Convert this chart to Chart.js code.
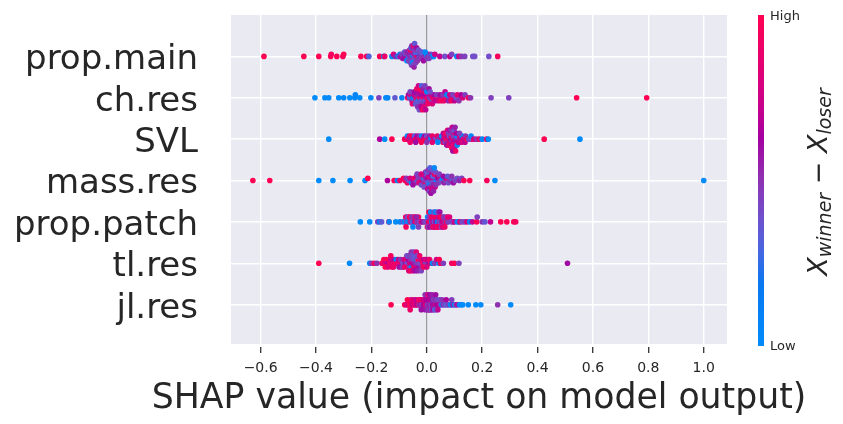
<!DOCTYPE html>
<html>
<head>
<meta charset="utf-8">
<script src="https://cdn.jsdelivr.net/npm/chart.js@4"></script>
<style>
  html, body { margin: 0; padding: 0; background: #fff; }
  canvas { display: block; }
</style>
</head>
<body>
<canvas id="shapChart" width="843" height="424"></canvas>
<script>
const features = ['prop.main', 'ch.res', 'SVL', 'mass.res', 'prop.patch', 'tl.res', 'jl.res'];
const xTicks = [-0.6, -0.4, -0.2, 0.0, 0.2, 0.4, 0.6, 0.8, 1.0];
const xTitle = 'SHAP value (impact on model output)';

// shap values and (normalised) feature values, one pair of arrays per feature
const propMainShap = [-0.588, -0.444, -0.39, -0.347, -0.345, -0.325, -0.303, -0.300, -0.238, -0.217, -0.209, -0.17, -0.155, -0.152, -0.126, -0.12, -0.113,
  -0.104, -0.1, -0.097, -0.094, -0.09, -0.087, -0.083, -0.08, -0.077, -0.073,
  -0.07, -0.067, -0.064, -0.061, -0.058, -0.056, -0.053, -0.05, -0.048, -0.045,
  -0.043, -0.04, -0.038, -0.035, -0.032, -0.03, -0.027, -0.024, -0.021, -0.018,
  -0.015, -0.012, -0.009, -0.006, -0.003, 0.0, 0.005, 0.01, 0.015, 0.02,
  -0.06, -0.055, -0.052, -0.047, -0.044, -0.041, -0.036,
  -0.085, -0.08, -0.075, -0.072, -0.068, -0.065, -0.062, -0.06, -0.058, -0.057,
  -0.055, -0.054, -0.052, -0.05, -0.049, -0.047, -0.046, -0.044, -0.042, -0.04,
  -0.037, -0.034, -0.03, -0.026, -0.022, -0.018, -0.012, -0.006, 0.0, 0.008,
  0.025, 0.029, 0.047, 0.065, 0.083, 0.09, 0.108, 0.116, 0.125, 0.137, 0.166, 0.173, 0.224, 0.256];
const propMainFeat = [1, 1, 1, 1, 0.95, 1, 0.95, 1, 1, 0.95, 0.3, 1, 0, 0.9, 0.05, 0.8, 0.55,
  0.05, 0.45, 0.1, 0.6, 0.45, 0.5, 0.4, 0.6, 0.35, 0.45,
  0.5, 0.3, 0.55, 0.45, 0.55, 0.4, 0.6, 0.05, 0.45, 0.4,
  0.5, 0.5, 0.35, 0.95, 0.6, 0.45, 0.45, 0.2, 0.55, 0.5,
  0.4, 0.6, 0.5, 0.55, 0.45, 0.0, 0.6, 0.3, 0.45, 0.05,
  0.45, 0.5, 0.55, 0.4, 0.5, 0.3, 0.55,
  0.6, 0.35, 0.5, 0.05, 0.55, 0.45, 0.4, 0.9, 0.45, 0.3,
  0.5, 0.5, 0.05, 0.55, 0.4, 0.85, 0.55, 0.35, 0.45, 0.45,
  0.6, 0.5, 0.4, 0.5, 0.45, 0.35, 0.6, 0.05, 0.5, 0.45,
  0, 0.75, 0.7, 0.4, 0.7, 0.45, 0.05, 0.75, 0.5, 0.45, 0.4, 0.4, 0.4, 0.95];

const chResShap = [-0.404, -0.368, -0.354, -0.318, -0.30, -0.278, -0.26, -0.258, -0.242, -0.202, -0.173, -0.148, -0.141, -0.115, -0.09, -0.069,
  -0.066, -0.062, -0.058, -0.054, -0.05, -0.046, -0.042, -0.038, -0.035, -0.032,
  -0.03, -0.028, -0.025, -0.022, -0.02, -0.018, -0.015, -0.012, -0.01, -0.008,
  -0.005, -0.003, 0, 0.003, 0.006, 0.01, 0.014, 0.018, 0.022, 0.026,
  -0.06, -0.052, -0.045, -0.04, -0.036, -0.033, -0.03, -0.027, -0.024, -0.021,
  -0.019, -0.016, -0.013, -0.011, -0.007, -0.004, 0.0, 0.004, 0.008, 0.012,
  0.02, 0.04, 0.055, 0.068, 0.08, 0.092, 0.105, 0.12,
  0.03, 0.036, 0.042, 0.048, 0.052, 0.058, 0.062, 0.066, 0.072, 0.078, 0.083,
  0.088, 0.094, 0.1, 0.106, 0.11, 0.116, 0.124, 0.13, 0.138, 0.15, 0.158,
  0.232, 0.296, 0.541, 0.794];
const chResFeat = [0, 0, 0.02, 0, 0.05, 0, 0.03, 0.08, 0, 0.05, 0.45, 0, 0.05, 0.35, 0.05, 0.95,
  0.6, 0.3, 0.8, 0.5, 0.15, 0.7, 0.4, 0.9, 0.55, 0.25,
  0.7, 0.45, 0.95, 0.6, 0.35, 0.8, 0.5, 0.9, 0.65, 0.4,
  1, 0.55, 0.85, 0.7, 0.95, 0.5, 0.75, 0.4, 0.9, 0.6,
  0.45, 0.85, 0.6, 0.35, 0.9, 0.5, 0.75, 0.4, 1, 0.65,
  0.3, 0.95, 0.55, 0.8, 0.45, 0.7, 0.05, 0.9, 0.6, 0.4,
  0.8, 0.95, 0.5, 1, 0.45, 0.9, 0.7, 0.55,
  0.7, 0.45, 0.8, 0.6, 0.95, 0.5, 0.9, 0.7, 0.05, 0.55, 0.75,
  0.95, 0.45, 0.7, 0.4, 0.85, 0.5, 0.65, 0.8, 0.45, 0.95, 0.5,
  0.45, 0.45, 1, 1];

const svlShap = [-0.354, -0.17, -0.152, -0.126, -0.08,
  -0.075, -0.07, -0.066, -0.062, -0.058, -0.053, -0.048, -0.044, -0.04, -0.035, -0.03, -0.026, -0.022,
  -0.018, -0.013, -0.008, -0.004, 0, 0.005, 0.01, 0.015, 0.02, 0.026, 0.032, 0.038, 0.044,
  0.05, 0.054, 0.058, 0.061, 0.064, 0.067, 0.07, 0.073, 0.076, 0.079, 0.082, 0.085, 0.087, 0.089,
  0.091, 0.093, 0.095, 0.097, 0.1, 0.103, 0.106, 0.109, 0.112, 0.116, 0.12, 0.124, 0.128, 0.132,
  -0.06, -0.04, -0.02, 0.0, 0.02, 0.04, 0.06, 0.068, 0.072, 0.075,
  0.078, 0.08, 0.083, 0.086, 0.088, 0.09, 0.092, 0.094, 0.096, 0.098,
  0.1, 0.102, 0.104, 0.107, 0.11, 0.114, 0.118, 0.125, 0.14, 0.16,
  0.138, 0.145, 0.152, 0.16, 0.17, 0.18, 0.19, 0.2, 0.216, 0.222,
  0.424, 0.553];
const svlFeat = [0, 0.65, 0, 1, 1,
  0.95, 0.05, 0.8, 0.9, 0.55, 1, 0.7, 0.3, 0.95, 0.65, 0.85, 0.5, 0.9,
  0.05, 0.75, 0.6, 0.95, 0.4, 0.8, 0.55, 0.05, 0.9, 0.7, 0.4, 0.85, 0.5,
  0.75, 0.05, 0.9, 0.6, 0.8, 0.45, 0.95, 0.7, 0.55, 0.85, 0.4, 0.75, 0.6, 0.9,
  0.5, 0.7, 0.8, 0.45, 0.65, 0.9, 0.55, 0.05, 0.75, 0.5, 0.85, 0.6, 0, 0.8,
  0.9, 0.6, 1, 0.5, 0.85, 0.05, 0.7, 0.95, 0.6, 0.8,
  0.45, 0.9, 0.65, 0.75, 0.5, 0.95, 0.7, 0.6, 0.85, 0.4,
  0.75, 0.55, 0.9, 0.65, 0.05, 0.7, 0.45, 0.8, 0.5, 0.9,
  0.7, 0.95, 0.4, 0.05, 0.8, 0.5, 0.9, 0.05, 0.95, 0,
  1, 0];

const massResShap = [-0.628, -0.567, -0.39, -0.339, -0.277, -0.223, -0.213, -0.142, -0.118, -0.106, -0.097, -0.084,
  -0.078, -0.074, -0.07, -0.065, -0.06, -0.055, -0.05, -0.045, -0.04, -0.036, -0.032, -0.03,
  -0.028, -0.024, -0.02, -0.016, -0.012, -0.01, -0.008, -0.005, -0.002, 0, 0.001, 0.004,
  0.007, 0.01, 0.012, 0.013, 0.016, 0.019, 0.02, 0.022, 0.025, 0.028, 0.03, 0.031,
  0.035, 0.039, 0.043, 0.047, 0.052, 0.057, 0.062, 0.067, 0.072, 0.078, 0.084,
  0.09, 0.096, 0.103, 0.11, 0.118, 0.126,
  -0.05, -0.035, -0.02, -0.01, -0.004, 0.0, 0.003, 0.006, 0.009, 0.012,
  0.015, 0.018, 0.021, 0.024, 0.027, 0.033, 0.045, 0.06, 0.075, 0.09,
  0.134, 0.155, 0.217, 0.246, 1.0];
const massResFeat = [1, 1, 0, 0, 0, 0, 1, 0.65, 1, 0.05, 0.95, 1,
  0.9, 0.5, 0.95, 0.4, 0.8, 0.05, 0.6, 0.9, 0.45, 0.7, 0.35, 0.45,
  0.85, 0.5, 0.4, 0.75, 0.3, 0.5, 0.55, 0.9, 0.4, 0.45, 0.6, 0.35,
  0.8, 0.05, 0.65, 0.5, 0.45, 0.7, 0.4, 0.3, 0.55, 0.9, 0.7, 0.4,
  0.05, 0.6, 0.45, 0.75, 0.4, 0.05, 0.55, 0.45, 0.8, 0.4, 0.5,
  0.35, 0.6, 0.45, 0.4, 0.55, 0.45,
  0.6, 0.45, 0.8, 0.4, 0.55, 0.35, 0.7, 0.5, 0.45, 0.3,
  0.6, 0.75, 0.4, 0.55, 0.05, 0.5, 0.45, 0.6, 0.35, 0.5,
  1, 1, 0.95, 0, 0];

const propPatchShap = [-0.24, -0.206, -0.177, -0.17, -0.163, -0.137, -0.136, -0.112, -0.097,
  -0.085, -0.08, -0.076, -0.072, -0.068, -0.064, -0.06, -0.056, -0.052,
  -0.048, -0.044, -0.04, -0.035, -0.03, -0.025, -0.02, -0.014, -0.008,
  0, 0.003, 0.006, 0.009, 0.012, 0.015, 0.018, 0.021, 0.024, 0.027, 0.03, 0.033, 0.036,
  0.039, 0.042, 0.045, 0.048, 0.051, 0.055, 0.059, 0.063, 0.067, 0.072, 0.077, 0.082,
  -0.075, -0.07, -0.062, -0.055, -0.05, -0.042, -0.038, -0.03,
  0.002, 0.005, 0.008, 0.011, 0.014, 0.017, 0.02, 0.023, 0.026, 0.029, 0.032, 0.035, 0.038,
  0.041, 0.044, 0.047, 0.05, 0.053, 0.057, 0.061, 0.065, 0.07, 0.075, 0.095, 0.115,
  0.09, 0.1, 0.11, 0.12, 0.128, 0.137, 0.145, 0.155, 0.165,
  0.18, 0.182, 0.2, 0.21, 0.23, 0.267, 0.289, 0.314, 0.321];
const propPatchFeat = [0, 0, 0.45, 0.1, 0.35, 1, 0.05, 0, 0.05,
  0.35, 0.05, 0.9, 0.4, 0.05, 0.95, 0.45, 0.85, 0.3,
  0.95, 0.6, 0.9, 0.5, 0.95, 0.4, 0.85, 0.6, 0.45,
  0.4, 0.05, 0.8, 0.45, 0.95, 0.5, 0.05, 0.7, 0.9, 0.4, 0.85, 0.6, 0.95,
  0.05, 0.75, 0.5, 0.9, 0.35, 0.7, 0.05, 0.85, 0.5, 0.95, 0.45, 0.8,
  0.95, 0.4, 1, 0.5, 0.05, 0.9, 0.55, 0.45,
  0.95, 0.45, 1, 0.6, 0.05, 0.9, 0.5, 0.95, 0.4, 0.85, 0.05, 0.7, 1,
  0.45, 0.9, 0.6, 0.95, 0.4, 0.8, 0.5, 0.9, 0.45, 0.85, 0.5, 0.4,
  0.45, 0.75, 0.05, 0.85, 0.4, 0.45, 0.8, 0.05, 0.7,
  1, 0.45, 0.5, 0.35, 0.7, 1, 1, 1, 0.95];

const tlResShap = [-0.39, -0.279, -0.206, -0.2, -0.19, -0.18, -0.156,
  -0.162, -0.155, -0.15, -0.146, -0.142, -0.138, -0.134, -0.13,
  -0.126, -0.122, -0.118, -0.114, -0.11, -0.106, -0.102,
  -0.098, -0.094, -0.09, -0.086, -0.082, -0.078, -0.074, -0.07, -0.067, -0.064,
  -0.061, -0.058, -0.055, -0.052, -0.049, -0.046, -0.043, -0.04, -0.037, -0.034,
  -0.031, -0.028, -0.025, -0.022, -0.018, -0.014, -0.01, -0.005,
  -0.15, -0.14, -0.13, -0.12, -0.1, -0.088, -0.08, -0.072, -0.068,
  -0.065, -0.062, -0.059, -0.056, -0.053, -0.05, -0.047, -0.044, -0.041,
  -0.038, -0.035, -0.032, -0.026, -0.02, -0.012, -0.004, 0.008, 0.015,
  0, 0.005, 0.01, 0.02, 0.028, 0.035, 0.044, 0.045, 0.05, 0.06, 0.09, 0.1, 0.116, 0.508];
const tlResFeat = [1, 0, 0.05, 0.45, 0.95, 0.5, 0,
  0.9, 1, 0.8, 0.95, 0.65, 1, 0.9, 0.75,
  1, 0.85, 0.6, 0.95, 0.05, 0.9, 0.7,
  0.85, 0.5, 0.95, 0.4, 0.75, 0.55, 0.9, 0.4, 0.65, 0.35,
  0.8, 0.5, 0.05, 0.7, 0.4, 0.9, 0.55, 0.35, 0.75, 0.45,
  0.95, 0.6, 0.4, 0.85, 0.5, 0.95, 0.7, 0.45,
  1, 0.85, 0.95, 0.9, 0.6, 0.45, 0.9, 0.5, 0.35,
  0.8, 0.45, 0.95, 0.5, 0.4, 0.75, 0.45, 0.35, 0.6,
  0.85, 0.4, 0.55, 0.9, 0.45, 0.95, 0.8, 0.6, 0.85,
  0.8, 0.7, 0.9, 0.05, 0.45, 0.75, 0, 1, 0.95, 0.45, 0.9, 1, 0.45, 0.6];

const jlResShap = [-0.129, -0.08, -0.075, -0.07, -0.066, -0.062, -0.058, -0.054, -0.05, -0.046,
  -0.042, -0.038, -0.034, -0.03, -0.027, -0.024, -0.021, -0.02, -0.018, -0.015,
  -0.012, -0.01, -0.009, -0.006, -0.003, 0, 0, 0.003, 0.005, 0.006,
  0.009, 0.01, 0.012, 0.015, 0.018, 0.02, 0.021, 0.024, 0.027, 0.03,
  0.03, 0.033, 0.037, 0.04, 0.041, 0.045, 0.05, 0.055, 0.06, 0.065,
  -0.07, -0.06, -0.05, -0.04, -0.03, -0.02, -0.012, -0.006, -0.002,
  0.002, 0.004, 0.008, 0.011, 0.013, 0.016, 0.019, 0.022, 0.025,
  0.028, 0.032, 0.035, 0.04, 0.047, 0.055, 0.07, 0.09,
  0.07, 0.075, 0.08, 0.085, 0.09, 0.095, 0.1, 0.105, 0.11, 0.118, 0.125,
  0.13, 0.15, 0.177, 0.195, 0.256, 0.303];
const jlResFeat = [1, 1, 0.8, 0.95, 0.75, 1, 0.7, 0.9, 0.65, 1,
  0.75, 0.85, 0.6, 0.95, 0.5, 0.8, 0.7, 0.75, 0.45, 0.9,
  0.6, 0.65, 0.75, 0.55, 0.95, 0.7, 0.85, 0.45, 0.4, 0.8,
  0.6, 0.55, 0.5, 0.75, 0.4, 0.6, 0.65, 0.05, 0.55, 0.7,
  0.5, 0.4, 0.6, 0.65, 0.35, 0.7, 0.45, 0.05, 0.55, 0.4,
  1, 0.9, 0.85, 0.7, 0.9, 0.6, 0.75, 0.5, 0.65,
  0.55, 0.8, 0.45, 0.6, 0.7, 0.4, 0.55, 0.65, 0.5,
  0.35, 0.6, 0.45, 0.7, 0.4, 0.5, 0.35, 0.45,
  0.65, 0.35, 0.5, 0.05, 0.45, 0.6, 0.05, 0.35, 0.7, 0, 0.05,
  0, 0.02, 0, 0, 0.5, 0];

const shapByFeature = [propMainShap, chResShap, svlShap, massResShap, propPatchShap, tlResShap, jlResShap];
const featByFeature = [propMainFeat, chResFeat, svlFeat, massResFeat, propPatchFeat, tlResFeat, jlResFeat];

// blue -> purple -> red, like shap's red_blue map
const colorStops = [
  [0, 0, 139, 251], [0.19, 10, 120, 240], [0.29, 74, 101, 224], [0.39, 112, 80, 204],
  [0.51, 144, 48, 176], [0.63, 164, 0, 160], [0.71, 196, 0, 143], [0.87, 232, 0, 110], [1, 255, 0, 82]
];

function cmap(v) {
  v = Math.max(0, Math.min(1, v));
  for (let i = 1; i < colorStops.length; i++) {
    const a = colorStops[i - 1], b = colorStops[i];
    if (v <= b[0]) {
      const t = (v - a[0]) / (b[0] - a[0]);
      const c = [1, 2, 3].map(k => Math.round(a[k] + (b[k] - a[k]) * t));
      return `rgb(${c[0]},${c[1]},${c[2]})`;
    }
  }
  return 'rgb(255,0,82)';
}

// same layering as shap's summary plot: bin, then stack up/down inside a bin
const rowHeight = 0.4;
function beeswarm(shaps) {
  const nbins = 100;
  const mn = Math.min(...shaps), mx = Math.max(...shaps);
  const quant = shaps.map(s => Math.round(nbins * (s - mn) / (mx - mn + 1e-8)));
  const inds = shaps.map((_, i) => i).sort((a, b) => quant[a] - quant[b] || a - b);
  const ys = new Array(shaps.length).fill(0);
  let layer = 0, lastBin = -1;
  inds.forEach(i => {
    if (quant[i] !== lastBin) layer = 0;
    ys[i] = Math.ceil(layer / 2) * ((layer % 2) * 2 - 1);
    layer++;
    lastBin = quant[i];
  });
  const m = Math.max(...ys) + 1;
  return ys.map(y => y * 0.9 * (rowHeight / m));
}

const datasets = features.map((name, i) => {
  const row = features.length - 1 - i;
  const shaps = shapByFeature[i];
  const offs = beeswarm(shaps);
  return {
    label: name,
    data: shaps.map((s, j) => ({ x: s, y: row + offs[j] })),
    backgroundColor: featByFeature[i].map(cmap),
    pointRadius: 2.8,
    pointHoverRadius: 2.8,
    borderWidth: 0
  };
});

const shapDecor = {
  id: 'shapDecor',
  beforeDraw(chart) {
    const { ctx, chartArea: a } = chart;
    ctx.save();
    ctx.fillStyle = '#eaeaf2';
    ctx.fillRect(a.left, a.top, a.right - a.left, a.bottom - a.top);
    ctx.restore();
  },
  afterDraw(chart) {
    const { ctx, chartArea: a } = chart;
    ctx.save();

    // axis title, drawn here so it is not squeezed to the axis width
    ctx.fillStyle = '#262626';
    ctx.font = "34.7px 'DejaVu Sans'";
    ctx.textAlign = 'center';
    ctx.textBaseline = 'alphabetic';
    ctx.fillText(xTitle, (a.left + a.right) / 2, 408);

    // colour bar
    const barX = a.right + 31, barW = 6, top = a.top, bottom = a.bottom + 2;
    const g = ctx.createLinearGradient(0, bottom, 0, top);
    colorStops.forEach(s => g.addColorStop(s[0], `rgb(${s[1]},${s[2]},${s[3]})`));
    ctx.fillStyle = g;
    ctx.fillRect(barX, top, barW, bottom - top);

    ctx.fillStyle = '#262626';
    ctx.font = "13px 'DejaVu Sans'";
    ctx.textAlign = 'left';
    ctx.textBaseline = 'middle';
    ctx.fillText('High', barX + 12, top + 2);
    ctx.fillText('Low', barX + 12, bottom + 1);

    // x_winner - x_loser, rotated
    const parts = [
      { t: 'X', font: "italic 27px 'DejaVu Sans'", dy: 0 },
      { t: 'winner', font: "italic 19px 'DejaVu Sans'", dy: 4 },
      { t: ' \u2212 ', font: "27px 'DejaVu Sans'", dy: 0 },
      { t: 'X', font: "italic 27px 'DejaVu Sans'", dy: 0 },
      { t: 'loser', font: "italic 19px 'DejaVu Sans'", dy: 4 }
    ];
    let total = 0;
    parts.forEach(p => { ctx.font = p.font; p.w = ctx.measureText(p.t).width; total += p.w; });
    ctx.translate(barX + 69, 182);
    ctx.rotate(-Math.PI / 2);
    ctx.textBaseline = 'alphabetic';
    let x = -total / 2;
    parts.forEach(p => {
      ctx.font = p.font;
      ctx.fillText(p.t, x, p.dy);
      x += p.w;
    });
    ctx.restore();
  }
};

new Chart(document.getElementById('shapChart'), {
  type: 'scatter',
  data: { datasets: datasets },
  plugins: [shapDecor],
  options: {
    responsive: false,
    animation: false,
    devicePixelRatio: 1,
    events: [],
    layout: { padding: { top: 15, right: 116, left: 0, bottom: 0 } },
    plugins: { legend: { display: false }, tooltip: { enabled: false } },
    scales: {
      x: {
        type: 'linear',
        min: -0.707,
        max: 1.084,
        afterBuildTicks: s => { s.ticks = xTicks.map(v => ({ value: v })); },
        afterFit: s => { s.height = 80; s.paddingLeft = 0; s.paddingRight = 0; },
        border: { display: false },
        grid: {
          color: c => (c.tick && c.tick.value === 0 ? '#999999' : '#ffffff'),
          lineWidth: c => (c.tick && c.tick.value === 0 ? 1.2 : 1.4),
          tickColor: '#333333',
          tickWidth: 1.3,
          tickLength: 9,
          tickBorderDash: [0, 3, 6, 0]
        },
        ticks: {
          autoSkip: false,
          maxRotation: 0,
          padding: 7,
          color: '#262626',
          font: { family: 'DejaVu Sans', size: 14 },
          callback: v => (v < 0 ? '\u2212' : '') + Math.abs(v).toFixed(1)
        }
      },
      y: {
        type: 'linear',
        min: -0.95,
        max: 7,
        afterBuildTicks: s => { s.ticks = features.map((_, i) => ({ value: i })); },
        afterFit: s => { s.width = 231; s.paddingTop = 0; s.paddingBottom = 0; },
        border: { display: false },
        grid: { color: '#ffffff', lineWidth: 1.4, drawTicks: false },
        ticks: {
          autoSkip: false,
          padding: 33,
          labelOffset: 4,
          color: '#262626',
          font: { family: 'DejaVu Sans', size: 34 },
          callback: v => features[features.length - 1 - v]
        }
      }
    }
  }
});
</script>
</body>
</html>
